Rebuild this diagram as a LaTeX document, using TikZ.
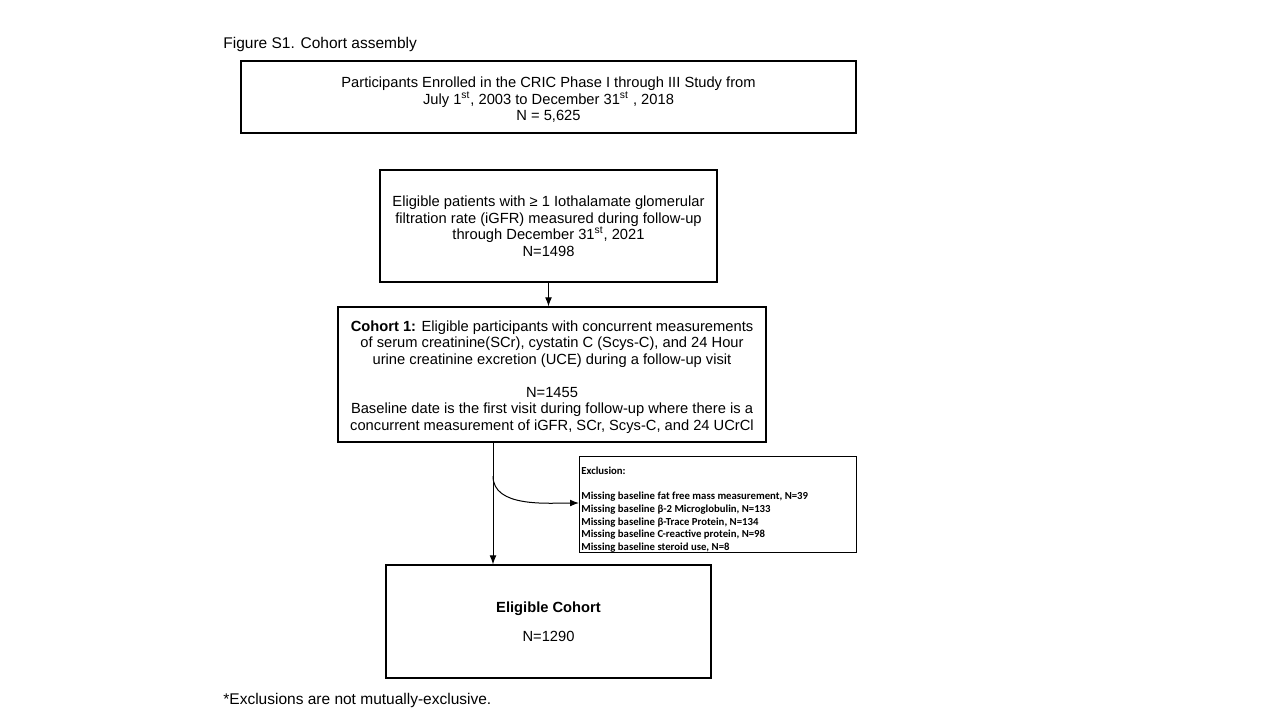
\documentclass[tikz,border=0pt]{standalone}
\usepackage{fontspec}
\setmainfont{Liberation Sans}
\newfontfamily\exclfont{Carlito}
\usetikzlibrary{arrows.meta}

\newcommand{\boxfont}{\fontsize{7.35}{8.25}\selectfont}
\tikzset{
  box/.style={draw, line width=0.6pt, align=center, inner sep=0pt, font=\boxfont},
  arr/.style={-{Latex[length=4.5pt,width=3.4pt]}, line width=0.5pt},
  note/.style={anchor=base west, inner sep=0pt, font=\fontsize{7.75}{9}\selectfont},
}

\begin{document}
\begin{tikzpicture}[x=0.5pt, y=-0.5pt]
    \fill[white] (0,0) rectangle (1280,720);
    \useasboundingbox (0,0) rectangle (1280,720);
    % title and footnote
    \node[note] (title) at (223,48) {Figure S1. Cohort assembly};
    \node[note] (foot) at (223,704) {*Exclusions are not mutually-exclusive.};
    % boxes
    \node[box, minimum width=307.5pt, minimum height=36pt] (enrolled) at (548.5,97)
      {\rule{0pt}{8pt}Participants Enrolled in the CRIC Phase I through III Study from\\
       July 1\textsuperscript{st}, 2003 to December 31\textsuperscript{st} , 2018\\
       N = 5,625};
    \node[box, minimum width=168.5pt, minimum height=56pt] (eligible) at (548.5,226)
      {Eligible patients with ≥ 1 Iothalamate glomerular\\
       filtration rate (iGFR) measured during follow-up\\
       through December 31\textsuperscript{st}, 2021\\
       N=1498};
    \node[box, minimum width=214pt, minimum height=67.5pt] (cohort) at (552,374.5)
      {\rule{0pt}{8pt}\textbf{Cohort 1:} Eligible participants with concurrent measurements\\
       of serum creatinine(SCr), cystatin C (Scys-C), and 24 Hour\\
       urine creatinine excretion (UCE) during a follow-up visit\\[8.25pt]
       N=1455\\
       Baseline date is the first visit during follow-up where there is a\\
       concurrent measurement of iGFR, SCr, Scys-C, and 24 UCrCl};
    \node[box, minimum width=162.5pt, minimum height=56.5pt] (final) at (548.5,621.5)
      {\textbf{Eligible Cohort}\\[6.2pt]N=1290};
    % exclusion box
    \node[draw, line width=0.5pt, inner sep=0pt, minimum width=138.5pt, minimum height=48pt,
      anchor=north west] (excl) at (579,456) {};
    \node[anchor=north west, inner sep=0pt, align=left,
      font=\exclfont\bfseries\fontsize{5.37}{6.35}\selectfont] (excltext) at (581,466.5)
      {Exclusion:\\[6.35pt]
       Missing baseline fat free mass measurement, N=39\\
       Missing baseline β-2 Microglobulin, N=133\\
       Missing baseline β-Trace Protein, N=134\\
       Missing baseline C-reactive protein, N=98\\
       Missing baseline steroid use, N=8};
    % connectors
    \coordinate (split) at (493,476);
    \draw[arr] (eligible.south) -- (eligible.south |- cohort.north);
    \draw[arr] (cohort.south -| split) -- (final.north -| split);
    \draw[arr] (split) to[out=-90, in=180, looseness=0.9] (excl.west |- 0,503);
\end{tikzpicture}
\end{document}
